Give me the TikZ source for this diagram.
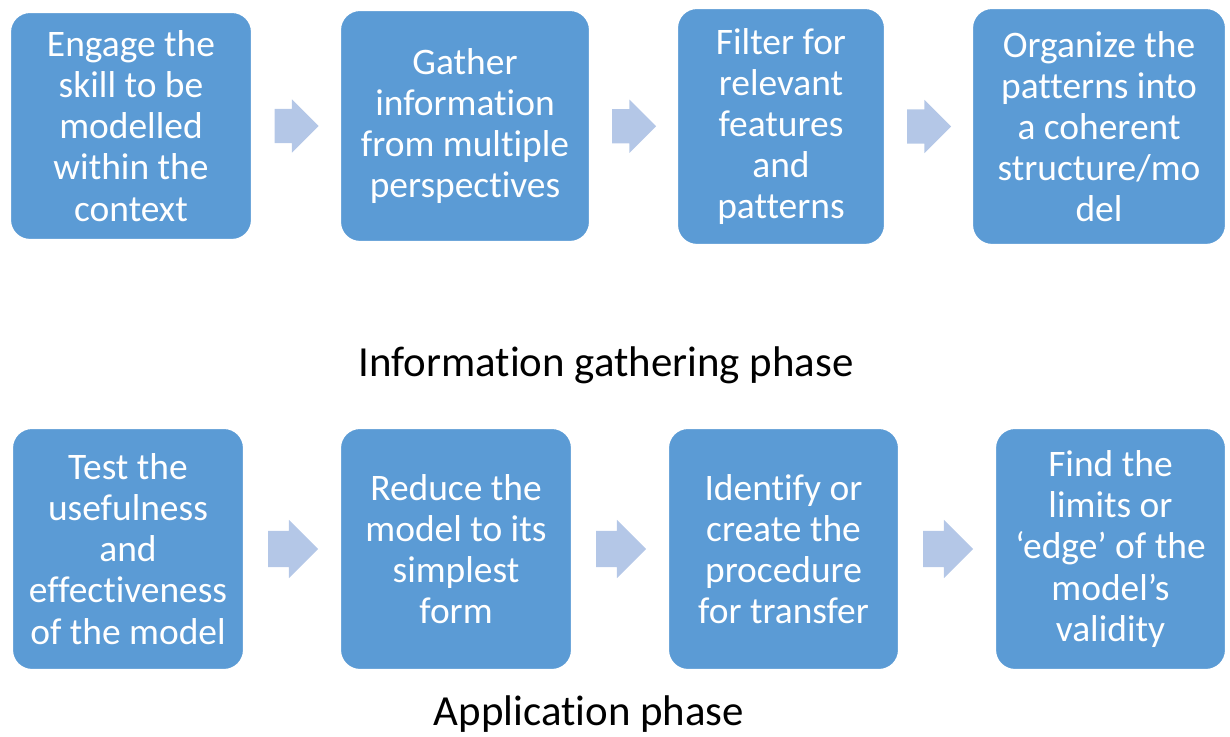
\documentclass[tikz,border=0pt]{standalone}
\usepackage{fontspec}
\setmainfont{Carlito}[Ligatures=NoCommon]
\usetikzlibrary{positioning,shapes.arrows}
\definecolor{boxblue}{HTML}{5B9BD5}
\definecolor{arrowblue}{HTML}{B4C7E7}
\tikzset{
  stepbox/.style={fill=boxblue,draw=white,line width=0.6pt,rounded corners=0.2cm,
    text=white,align=center,inner sep=0pt,font=\fontsize{10.65}{11.7}\selectfont},
  flowarrow/.style={single arrow,fill=arrowblue,draw=none,inner xsep=0pt,inner ysep=0.165cm,
    minimum height=0.44cm,single arrow head extend=0.095cm,xshift=-0.08cm},
  bigarrow/.style={flowarrow,inner ysep=0.175cm,minimum height=0.50cm,
    single arrow head extend=0.11cm},
  phase/.style={anchor=base,font=\fontsize{12.2}{15}\selectfont}
}

\begin{document}
\begin{tikzpicture}

  \useasboundingbox (0,0) rectangle (12.30,7.37);

  % information gathering
  \node[stepbox,minimum width=2.42cm,minimum height=2.28cm] (B1) at (1.31,  6.11)
    {Engage the\\skill to be\\modelled\\within the\\context};
  \node[stepbox,minimum width=2.50cm,minimum height=2.32cm] (B2) at (4.65,  6.11)
    {Gather\\information\\from multiple\\perspectives};
  \node[stepbox,minimum width=2.08cm,minimum height=2.37cm] (B3) at (7.81,  6.105)
    {Filter for\\relevant\\features\\and\\patterns};
  \node[stepbox,minimum width=2.54cm,minimum height=2.37cm] (B4) at (10.99, 6.105)
    {Organize the\\patterns into\\a coherent\\structure/mo\\del};

  \path (B1.east) -- (B2.west) node[flowarrow,midway] (A1) {};
  \path (B2.east) -- (B3.west) node[flowarrow,midway] (A2) {};
  \path (B3.east) -- (B4.west) node[flowarrow,midway] (A3) {};

  \node[phase] (P1) at (6.06, 3.60) {Information gathering phase};

  % application
  \node[stepbox,minimum width=2.32cm,minimum height=2.42cm] (B5) at (1.28,  1.88)
    {Test the\\usefulness\\and\\effectiveness\\of the model};
  \node[stepbox,minimum width=2.32cm,minimum height=2.42cm] (B6) at (4.56,  1.88)
    {Reduce the\\model to its\\simplest\\form};
  \node[stepbox,minimum width=2.31cm,minimum height=2.42cm] (B7) at (7.835, 1.88)
    {Identify or\\create the\\procedure\\for transfer};
  \node[stepbox,minimum width=2.31cm,minimum height=2.42cm] (B8) at (11.105,1.88)
    {Find the\\limits or\\‘edge’ of the\\model’s\\validity};

  \path (B5.east) -- (B6.west) node[bigarrow,midway] (A4) {};
  \path (B6.east) -- (B7.west) node[bigarrow,midway] (A5) {};
  \path (B7.east) -- (B8.west) node[bigarrow,midway] (A6) {};

  \node[phase] (P2) at (5.89, 0.11) {Application phase};

\end{tikzpicture}
\end{document}
